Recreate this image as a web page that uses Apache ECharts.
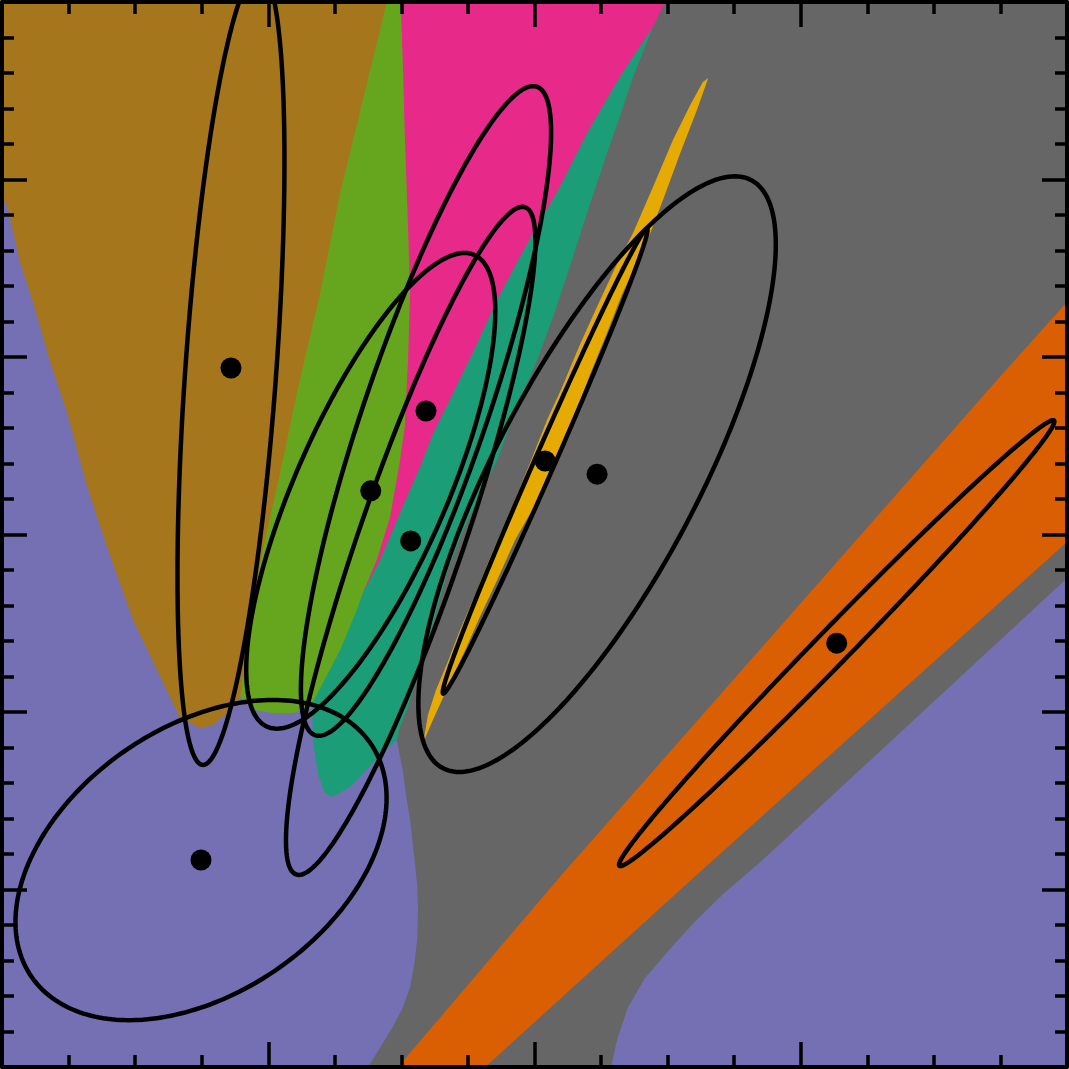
<!DOCTYPE html>
<html>
<head>
<meta charset="utf-8">
<script src="https://cdn.jsdelivr.net/npm/echarts@6/dist/echarts.min.js"></script>
<style>
html, body { margin: 0; padding: 0; background: #fff; }
#chart { width: 1069px; height: 1069px; }
</style>
</head>
<body>
<div id="chart"></div>
<script>
// classes A..H, Dark2 colours
var classColors = ['#1b9e77', '#d95f02', '#7570b3', '#e7298a', '#66a61e', '#e6ab02', '#a6761d', '#666666'];

// class means
var centerX = [6.14, 12.54, 2.99, 6.37, 5.54, 8.16, 3.44, 8.94];
var centerY = [14.82, 11.94, 5.83, 18.48, 16.23, 17.07, 19.69, 16.70];

// spread ellipses: offset of the highest point, and horizontal half width through the mean
var reachX = [1.68, 3.25, 1.08, 1.61, 1.41, 1.53, 0.42, 2.07];
var reachY = [9.41, 6.28, 4.51, 9.15, 6.70, 6.55, 11.18, 8.39];
var sideX = [0.83, 0.36, 2.57, 0.97, 1.23, 0.165, 0.685, 1.71];

// decision regions (class C is the background)
var regionH = [[9.66,30],[16,30],[16,13.77],[11.39,5.77],[10.85,4.90],[10.40,4.08],[10.01,3.27],[9.66,2.51],[9.40,1.66],[9.24,0.76],[9.15,0],[5.50,0],[5.68,0.54],[5.87,1.13],[6.02,1.66],[6.13,2.25],[6.20,2.96],[6.24,3.66],[6.25,4.42],[6.24,5.07],[6.19,5.97],[6.13,6.96],[6.07,7.66],[6.02,8.37],[5.93,9.21],[5.83,9.77],[6.20,12.59],[7.03,16.82],[8.38,24.42],[9.59,29.21]];
var regionB = [[5.95,0],[8.38,5.35],[14.95,19.35],[16,21.55],[16,14.79],[10.19,4.99],[7.26,0]];
var regionF = [[10.61,27.86],[10.53,27.75],[10.34,27.10],[10.08,26.11],[9.78,24.79],[9.48,23.49],[9.21,22.51],[8.95,21.46],[8.68,20.34],[8.41,19.13],[8.19,18.23],[7.98,17.24],[7.78,16.31],[7.56,15.32],[7.33,14.34],[7.11,13.30],[6.88,12.31],[6.69,11.38],[6.52,10.62],[6.40,9.92],[6.33,9.15],[6.46,9.72],[6.61,10.34],[6.76,10.96],[6.96,11.75],[7.18,12.68],[7.44,13.72],[7.71,14.85],[8.05,15.97],[8.32,17.07],[8.61,18.37],[8.83,19.49],[9.09,20.68],[9.31,21.75],[9.54,22.68],[9.74,23.49],[9.93,24.42],[10.19,25.75],[10.44,26.96]];
var regionA = [[9.96,30],[9.78,29.30],[9.48,27.89],[9.28,26.76],[9.09,25.75],[8.79,24.06],[8.53,22.54],[8.28,21.13],[8.04,19.92],[7.78,18.79],[7.59,17.86],[7.44,17.10],[7.18,16.11],[6.93,15.13],[6.70,14.00],[6.52,12.79],[6.31,11.38],[6.10,10.14],[5.98,9.58],[5.93,9.21],[5.72,8.85],[5.48,8.37],[5.23,7.89],[4.97,7.61],[4.85,7.72],[4.75,8.23],[4.67,9.21],[4.66,10.25],[4.93,11.75],[5.68,16.54],[6.28,24.42],[7.48,30]];
var regionD = [[9.96,30],[9.78,29.30],[9.28,27.89],[8.79,26.31],[8.38,24.79],[7.98,23.49],[7.78,22.82],[7.44,21.61],[7.14,20.39],[6.78,18.99],[6.48,17.86],[6.28,16.90],[5.98,15.61],[5.68,14.28],[5.42,13.35],[5.38,13.44],[5.53,14.85],[5.68,16.54],[5.83,18.79],[5.90,24.42],[5.83,30]];
var regionE = [[5.99,30],[6.02,28.37],[6.05,26.31],[6.10,23.66],[6.13,21.80],[6.10,19.92],[6.05,18.03],[5.98,17.10],[5.83,15.49],[5.63,14.28],[5.42,13.35],[5.33,12.87],[5.08,11.75],[4.82,10.82],[4.66,10.25],[4.58,10.06],[4.37,9.97],[4.07,9.97],[3.77,10.06],[3.58,10.42],[3.64,12.68],[3.83,14.56],[4.13,17.10],[4.34,18.99],[4.69,21.80],[4.99,24.62],[5.48,28.37],[5.69,30]];
var regionG = [[0,30],[5.78,30],[5.57,28.37],[5.08,24.62],[4.78,21.80],[4.43,18.99],[4.22,17.10],[3.92,14.56],[3.73,12.68],[3.58,10.42],[3.43,10.06],[3.17,9.63],[2.97,9.55],[2.67,9.86],[2.33,11.18],[1.97,12.59],[1.62,14.42],[1.29,16.28],[0.98,18.42],[0.72,19.89],[0.47,21.52],[0.27,22.68],[0.08,24.25],[0,24.48]];

// drawing order, bottom to top
var regionList = [regionH, regionB, regionF, regionA, regionD, regionE, regionG];
var regionColor = [classColors[7], classColors[1], classColors[5], classColors[0], classColors[3], classColors[4], classColors[6]];

const chart = echarts.init(document.getElementById('chart'));

function regionSeries(points, color) {
	return {
		type: 'custom',
		clip: true,
		silent: true,
		z: 1,
		data: [points[0]],
		renderItem: function (params, api) {
			return {
				type: 'polygon',
				shape: { points: points.map(function (p) { return api.coord(p); }) },
				style: { fill: color, stroke: null }
			};
		}
	};
}

function axis(pos, max, step, minor) {
	return {
		type: 'value',
		position: pos,
		min: 0,
		max: max,
		interval: step,
		z: 10,
		axisLine: { show: true, onZero: false, lineStyle: { color: '#000', width: 4 } },
		axisTick: { show: true, inside: true, length: 25, lineStyle: { color: '#000', width: 3.5 } },
		minorTick: { show: true, splitNumber: minor, length: 12, lineStyle: { color: '#000', width: 3.5 } },
		axisLabel: { show: false },
		splitLine: { show: false },
		minorSplitLine: { show: false }
	};
}

var series = regionList.map(function (r, i) { return regionSeries(r, regionColor[i]); });

// spread ellipses
series.push({
	type: 'custom',
	clip: true,
	silent: true,
	z: 3,
	data: centerX.map(function (x, i) { return [x, centerY[i]]; }),
	renderItem: function (params, api) {
		var i = params.dataIndex;
		var pts = [];
		for (var k = 0; k < 240; k++) {
			var t = k / 240 * Math.PI * 2;
			pts.push(api.coord([
				centerX[i] + reachX[i] * Math.cos(t) + sideX[i] * Math.sin(t),
				centerY[i] + reachY[i] * Math.cos(t)
			]));
		}
		return {
			type: 'polygon',
			shape: { points: pts },
			style: { fill: 'transparent', stroke: '#000', lineWidth: 4.5 }
		};
	}
});

// class means
series.push({
	type: 'scatter',
	z: 4,
	silent: true,
	symbolSize: 21,
	itemStyle: { color: '#000', opacity: 1 },
	data: centerX.map(function (x, i) { return [x, centerY[i]]; })
});

const option = {
	animation: false,
	grid: { left: 2, right: 2, top: 2, bottom: 2, show: true, backgroundColor: classColors[2], borderWidth: 0 },
	xAxis: [axis('bottom', 16, 4, 4), axis('top', 16, 4, 4)],
	yAxis: [axis('left', 30, 5, 5), axis('right', 30, 5, 5)],
	series: series
};
chart.setOption(option);
</script>
</body>
</html>
